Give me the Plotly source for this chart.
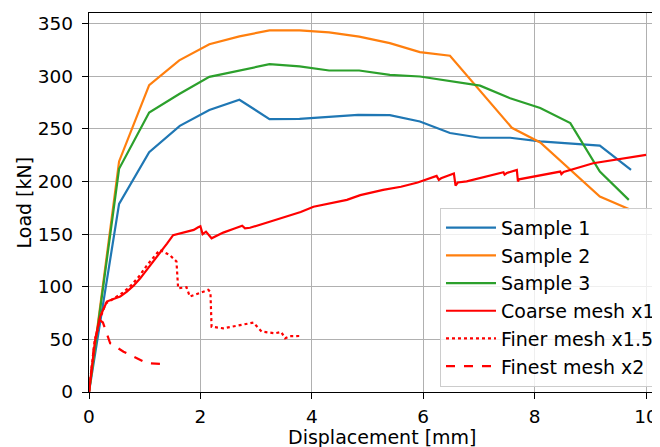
import plotly.graph_objects as go

s1_x = [0, 0.54, 1.08, 1.63, 2.16, 2.70, 3.24, 3.78, 4.83, 5.40, 5.94, 6.48, 7.02, 7.56, 8.10, 9.17, 9.73]
s1_y = [0, 178.7, 227.8, 252.8, 267.8, 277.6, 259.2, 259.5, 263.3, 263, 257, 246, 241.5, 241.5, 238, 234, 211]

s2_x = [0, 0.54, 1.08, 1.62, 2.16, 2.70, 3.24, 3.78, 4.31, 4.85, 5.40, 5.94, 6.48, 7.59, 8.10, 9.17, 9.70]
s2_y = [0, 219, 291.5, 315, 330.4, 337.8, 343.5, 343.5, 341.6, 337.5, 331.4, 322.9, 319.4, 251, 237, 185.6, 173.6]

s3_x = [0, 0.54, 1.08, 1.62, 2.16, 2.70, 3.24, 3.78, 4.31, 4.85, 5.40, 5.94, 6.48, 7.02, 7.56, 8.10, 8.64, 9.17, 9.69]
s3_y = [0, 212, 265.5, 283, 299.4, 305.4, 311.4, 309.3, 305.4, 305.4, 301.3, 299.7, 295, 291, 279, 269.7, 255.4, 209.4, 182.5]

coarse_x = [0, 0.11, 0.2, 0.32, 0.45, 0.56, 0.68, 0.8, 0.92, 1.1, 1.27, 1.4, 1.51, 1.63, 1.75,
            1.88, 1.96, 2.0, 2.04, 2.1, 2.2, 2.41, 2.6, 2.71, 2.75, 2.8, 2.89, 3.2, 3.5, 3.8,
            4.03, 4.3, 4.63, 4.87, 5.1, 5.28, 5.6, 5.9, 6.24, 6.28, 6.32, 6.55, 6.58, 6.62, 6.78,
            7.1, 7.44, 7.46, 7.5, 7.68, 7.7, 7.72, 8.0, 8.46, 8.48, 8.52, 9.05, 9.5, 10.0]
coarse_y = [0, 49.5, 71.6, 85.9, 88.5, 90.6, 95.3, 101, 108, 120, 131.8, 141, 149, 150.5, 151.8,
            154, 156.5, 157.5, 150, 152.3, 146, 151.4, 155, 157, 158, 155.5, 156, 161, 166, 171,
            176, 179, 182.5, 187, 190, 192, 195, 199, 205.3, 201.5, 203, 207.5, 196, 199, 200,
            204, 208.8, 206.5, 208, 211, 200, 202, 205, 209.4, 207, 209, 217.3, 221, 225.3]

finer_x = [0, 0.1, 0.2, 0.3, 0.45, 0.6, 0.75, 0.9, 1.05, 1.2, 1.27, 1.45, 1.57, 1.6, 1.75,
           1.81, 2.0, 2.14, 2.18, 2.2, 2.41, 2.65, 2.95, 3.1, 3.34, 3.45, 3.52, 3.6, 3.79]
finer_y = [0, 48, 70, 84, 89, 94, 101, 110, 121, 131, 135, 130, 124, 98.5, 99.5,
           90.6, 94.4, 97, 95, 62, 60.5, 62.7, 65.9, 57.4, 55.8, 57, 51, 53, 53.2]

finest_x = [0, 0.1, 0.2, 0.25, 0.38, 0.62, 0.86, 1.04, 1.33]
finest_y = [0, 48, 68, 66, 46.3, 38.3, 32, 27.3, 26.6]

x_ticks = [0, 2, 4, 6, 8, 10]
y_ticks = [0, 50, 100, 150, 200, 250, 300, 350]

fig = go.Figure()
W = 2.2
fig.add_trace(go.Scatter(x=s1_x, y=s1_y, mode="lines", name="Sample 1", line=dict(color="#1f77b4", width=W)))
fig.add_trace(go.Scatter(x=s2_x, y=s2_y, mode="lines", name="Sample 2", line=dict(color="#ff7f0e", width=W)))
fig.add_trace(go.Scatter(x=s3_x, y=s3_y, mode="lines", name="Sample 3", line=dict(color="#2ca02c", width=W)))
fig.add_trace(go.Scatter(x=coarse_x, y=coarse_y, mode="lines", name="Coarse mesh x1", line=dict(color="#ff0000", width=W)))
fig.add_trace(go.Scatter(x=finer_x, y=finer_y, mode="lines", name="Finer mesh x1.5", line=dict(color="#ff0000", width=W, dash="dot")))
fig.add_trace(go.Scatter(x=finest_x, y=finest_y, mode="lines", name="Finest mesh x2", line=dict(color="#ff0000", width=W, dash="dash")))

FS = 18.5
font = dict(family="DejaVu Sans", size=FS, color="black")
tfont = dict(family="DejaVu Sans", size=19, color="black")
# the page body adds an 8px offset, so the figure is 8px smaller than the window
fig.update_layout(
    width=652, height=439,
    margin=dict(l=81, r=0, t=5, b=55, autoexpand=False),
    plot_bgcolor="white", paper_bgcolor="white",
    font=font,
    showlegend=True,
    legend=dict(x=0.6147, y=0.486, xanchor="left", yanchor="top", itemwidth=50,
                bgcolor="rgba(255,255,255,0.8)", bordercolor="#cccccc", borderwidth=1,
                font=tfont),
    xaxis=dict(range=[0, 10.25], tickvals=x_ticks, ticks="outside", ticklen=6, tickcolor="black",
               ticklabelstandoff=2, automargin=False,
               showline=True, linecolor="black", linewidth=1.3, mirror=True,
               showgrid=True, gridcolor="#b0b0b0", gridwidth=1, zeroline=False),
    yaxis=dict(range=[0, 360], tickvals=y_ticks, ticks="outside", ticklen=6, tickcolor="black",
               ticklabelstandoff=5, automargin=False,
               showline=True, linecolor="black", linewidth=1.3, mirror=False,
               showgrid=True, gridcolor="#b0b0b0", gridwidth=1, zeroline=False),
    annotations=[
        dict(text="Displacement [mm]", xref="paper", yref="paper", x=(382 - 89) / 571, y=(392 - 437) / 379,
             xanchor="center", yanchor="middle", showarrow=False, font=tfont),
        dict(text="Load [kN]", xref="paper", yref="paper", x=(23 - 89) / 571, y=0.5,
             xanchor="center", yanchor="middle", showarrow=False, textangle=-90, font=tfont),
    ],
)
fig.write_html("out.html")
